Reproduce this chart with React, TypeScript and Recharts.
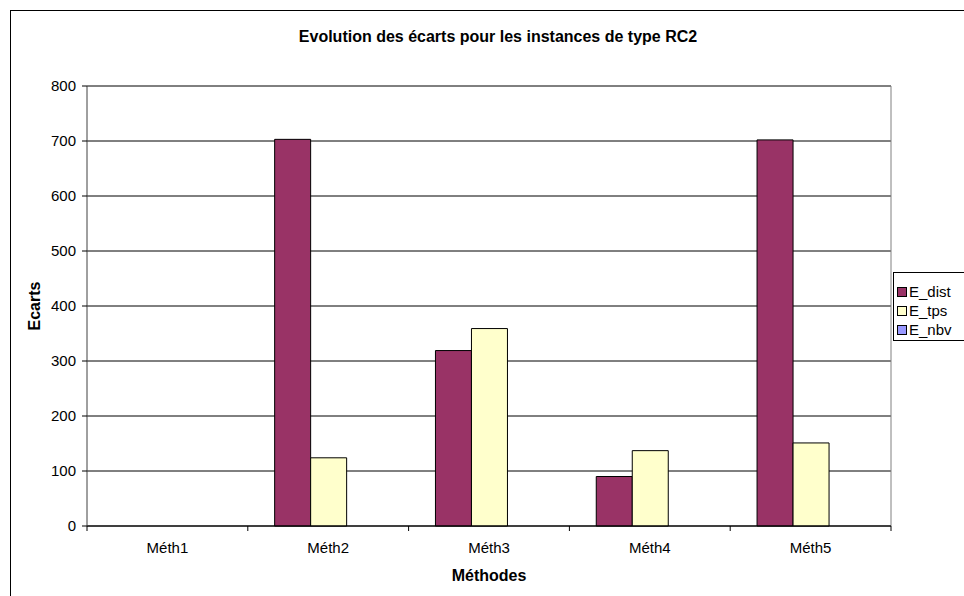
import React from 'react';
import { BarChart, Bar, XAxis, YAxis, CartesianGrid, ReferenceLine } from 'recharts';

const categories = ['Méth1', 'Méth2', 'Méth3', 'Méth4', 'Méth5'];
const eDist = [0, 703, 319, 90, 702];
const eTps = [0, 124, 359, 137, 151];
const eNbv = [0, 0, 0, 0, 0];
const yTicks = [0, 100, 200, 300, 400, 500, 600, 700, 800];

const seriesNames = ['E_dist', 'E_tps', 'E_nbv'];
const seriesColors = ['#993366', '#FFFFCC', '#9999FF'];

const data = categories.map((c, i) => ({ name: c, E_dist: eDist[i], E_tps: eTps[i], E_nbv: eNbv[i] }));

const W = 964;
const H = 596;
const PLOT_LEFT = 87;
const PLOT_RIGHT = 891;
const PLOT_TOP = 86;
const PLOT_BOTTOM = 526;
const BAND = (PLOT_RIGHT - PLOT_LEFT) / categories.length;
const FONT = 'Arial, "Liberation Sans", sans-serif';

const XTick = (props: any) => {
  const { x, payload, index } = props;
  const y = PLOT_BOTTOM;
  return (
    <g>
      <line x1={x - BAND / 2} x2={x - BAND / 2} y1={y} y2={y + 5} stroke="#000" />
      {index === categories.length - 1 && (
        <line x1={x + BAND / 2} x2={x + BAND / 2} y1={y} y2={y + 5} stroke="#000" />
      )}
      <text x={x} y={y + 22} dy="0.35em" textAnchor="middle" fontSize={15} fontFamily={FONT} fill="#000">
        {payload.value}
      </text>
    </g>
  );
};

const LegendBox = () => (
  <div
    style={{
      position: 'absolute',
      left: 893,
      top: 272,
      border: '1px solid #000',
      background: '#fff',
      width: 90,
      height: 69,
      boxSizing: 'border-box',
      paddingTop: 9,
      paddingLeft: 3,
      fontFamily: FONT,
      fontSize: 15,
      lineHeight: '19px',
      color: '#000',
    }}
  >
    {seriesNames.map((n, i) => (
      <div key={n} style={{ display: 'flex', alignItems: 'center', height: 19 }}>
        <span
          style={{
            display: 'inline-block',
            width: 8,
            height: 8,
            background: seriesColors[i],
            border: '1px solid #000',
            marginRight: 2,
          }}
        />
        <span>{n}</span>
      </div>
    ))}
  </div>
);

export default function App() {
  return (
    <div style={{ position: 'absolute', left: 0, top: 0, width: W, height: H, overflow: 'hidden', background: '#fff' }}>
      <div
        style={{
          position: 'absolute',
          left: 10,
          top: 10,
          width: W + 20,
          height: H + 20,
          border: '1px solid #000',
          boxSizing: 'border-box',
        }}
      />
      <div
        style={{
          position: 'absolute',
          left: 0,
          width: 996,
          top: 28,
          textAlign: 'center',
          fontFamily: FONT,
          fontWeight: 'bold',
          fontSize: 16,
          lineHeight: '18px',
          color: '#000',
        }}
      >
        Evolution des écarts pour les instances de type RC2
      </div>
      <div style={{ position: 'absolute', left: 0, top: 0 }}>
        <BarChart
          width={W}
          height={H}
          data={data}
          margin={{ top: PLOT_TOP, right: W - PLOT_RIGHT, bottom: H - PLOT_BOTTOM - 30, left: 0 }}
          barCategoryGap="16.7%"
          barGap={0}
        >
          <CartesianGrid horizontal={true} vertical={false} stroke="#000" />
          <CartesianGrid horizontal={false} vertical={true} verticalPoints={[PLOT_RIGHT]} stroke="#808080" />
          <ReferenceLine y={800} stroke="#808080" />
          <XAxis
            dataKey="name"
            height={30}
            axisLine={{ stroke: '#000' }}
            tickLine={false}
            tick={<XTick />}
            interval={0}
            label={{ value: 'Méthodes', position: 'bottom', offset: 14, fontFamily: FONT, fontSize: 16, fontWeight: 'bold', fill: '#000' }}
          />
          <YAxis
            width={PLOT_LEFT}
            domain={[0, 800]}
            ticks={yTicks}
            interval={0}
            axisLine={{ stroke: '#404040' }}
            tickLine={{ stroke: '#000' }}
            tickSize={5}
            tickMargin={6}
            tick={{ fontFamily: FONT, fontSize: 15, fill: '#000' }}
            label={{ value: 'Ecarts', angle: -90, position: 'center', dx: -9, fontFamily: FONT, fontSize: 16, fontWeight: 'bold', fill: '#000' }}
          />
          {seriesNames.map((n, i) => (
            <Bar key={n} dataKey={n} fill={seriesColors[i]} stroke="#000" strokeWidth={1} isAnimationActive={false} />
          ))}
        </BarChart>
      </div>
      <LegendBox />
    </div>
  );
}
